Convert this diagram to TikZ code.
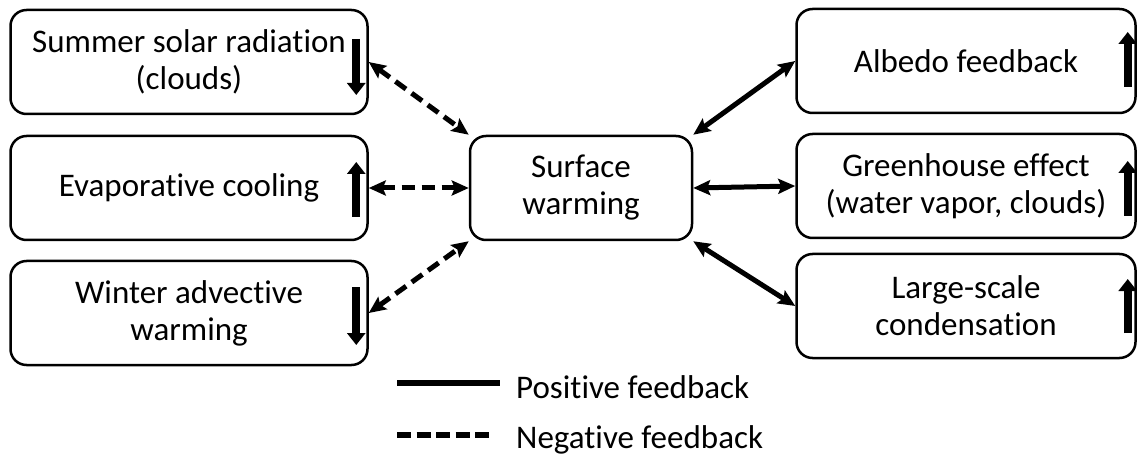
\documentclass[tikz,border=0pt]{standalone}
\usepackage{fontspec}
\setmainfont{Carlito}[Ligatures=NoCommon]
\usetikzlibrary{calc,arrows.meta}

\begin{document}
\begin{tikzpicture}[x=1pt,y=-1pt,
    fbox/.style={draw,line width=2.5pt,rounded corners=16pt,align=center,
        minimum height=104pt,inner sep=0pt,font=\fontsize{33}{37}\selectfont},
    posline/.style={line width=5pt,
        {Stealth[length=17pt,width=15pt,inset=3pt]}-{Stealth[length=17pt,width=15pt,inset=3pt]}},
    negline/.style={posline,dash pattern=on 13pt off 7pt},
    trend/.style={line width=8pt,-{Triangle[length=12pt,width=18pt]}},
    legtext/.style={anchor=base west,inner sep=0pt,font=\fontsize{33}{37}\selectfont}]
            \useasboundingbox (0,0) rectangle (1137,454);
            \node[fbox,minimum width=357pt] (solar) at (189,62) {Summer solar radiation\\(clouds)};
            \node[fbox,minimum width=357pt] (evap) at (189,188) {Evaporative cooling};
            \node[fbox,minimum width=357pt] (advect) at (189,313) {Winter advective\\warming};
            \node[fbox,minimum width=222pt] (surf) at (581,188) {Surface\\warming};
            \node[fbox,minimum width=339pt] (albedo) at (966,61) {Albedo feedback};
            \node[fbox,minimum width=339pt] (green) at (966,186) {Greenhouse effect\\(water vapor, clouds)};
            \node[fbox,minimum width=339pt] (cond) at (966,306) {Large-scale\\condensation};
            \foreach \n/\a/\b in {solar/-23/33,evap/29/-26,advect/-26/32}
                \draw[trend] ($(\n.east)+(-12.5,\a)$) -- ($(\n.east)+(-12.5,\b)$);
            \foreach \n/\a/\b in {albedo/26/-29,green/30/-25,cond/27/-27}
                \draw[trend] ($(\n.east)+(-9,\a)$) -- ($(\n.east)+(-9,\b)$);
            \draw[negline] (solar.east) -- (surf.north west);
            \draw[negline] (evap.east) -- (surf.west);
            \draw[negline] (advect.east) -- (surf.south west);
            \draw[posline] (surf.north east) -- (albedo.west);
            \draw[posline] (surf.east) -- (green.west);
            \draw[posline] (surf.south east) -- (cond.west);
            \coordinate (P_1) at (397,383);
            \coordinate (P_2) at (500,383);
            \coordinate (N_1) at (397,435);
            \coordinate (N_2) at (491,435);
            \draw[line width=6pt] (P_1)--(P_2);
            \draw[line width=6pt,dash pattern=on 14pt off 5.5pt] (N_1)--(N_2);
            \node[legtext] (pos) at (516,398) {Positive feedback};
            \node[legtext] (neg) at (516,448) {Negative feedback};
    \end{tikzpicture}
\end{document}
